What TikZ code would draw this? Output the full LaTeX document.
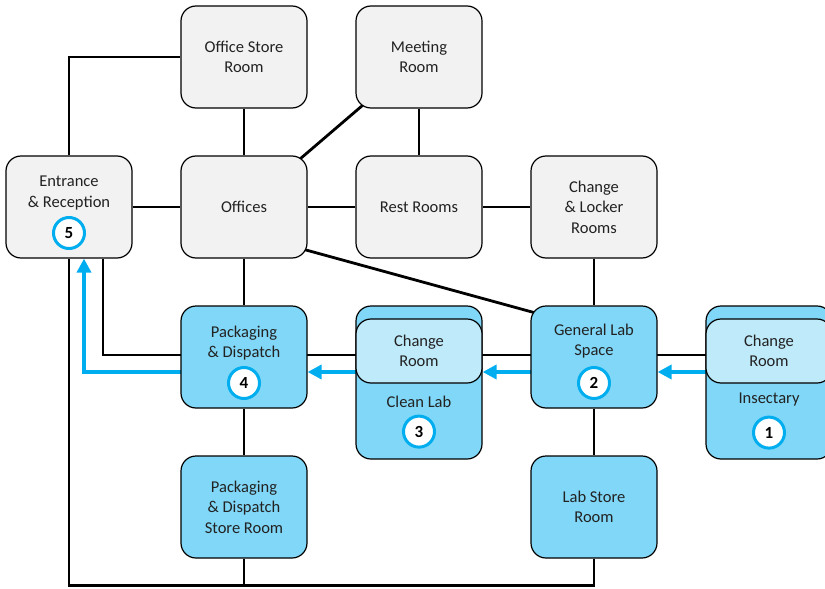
\documentclass[tikz,border=0pt]{standalone}
\usepackage{fontspec}
\setmainfont{Carlito}
\usepackage{tikz}
\usetikzlibrary{positioning,arrows.meta,backgrounds}
\definecolor{roomgrey}{HTML}{F2F2F2}
\definecolor{roomblue}{HTML}{80D7F7}
\definecolor{chgblue}{HTML}{BFEAFA}
\definecolor{flowblue}{HTML}{00AEEF}
\definecolor{txtgrey}{HTML}{222222}
\tikzset{
  room/.style = {align=center, inner sep=0pt, text centered, draw=black,
    line width=1.2pt, rounded corners=15pt, minimum width=126pt,
    minimum height=102pt, text=txtgrey, font=\fontsize{16.5}{20.5}\selectfont},
  room_g/.style = {room, fill=roomgrey},% office side, grey
  room_b/.style = {room, fill=roomblue},% lab side, blue
  room_t/.style = {room, fill=roomblue, minimum height=153pt},% lab with change room
  room_c/.style = {room, fill=chgblue, minimum height=64pt},% change room
  lbl/.style = {align=center, inner sep=0pt, text=txtgrey,
    font=\fontsize{16.5}{20.5}\selectfont},
  numc/.style = {circle, draw=flowblue, line width=3pt, fill=white,
    minimum size=31pt, inner sep=0pt, font=\fontsize{17}{17}\selectfont\bfseries},
  link/.style = {line width=2.8pt},
  flow/.style = {line width=4pt, draw=flowblue,
    -{Triangle[length=14pt,width=14pt]}}
}

\begin{document}
\begin{tikzpicture}[x=1pt, y=-1pt, node distance=46.8pt and 47.8pt]
  \useasboundingbox (0,0) rectangle (825,589);
  % office side
  \node [room_g] (ent) at (69,207) {};
  \node [room_g, right=of ent] (off) {Offices};
  \node [room_g, right=of off] (rest) {Rest Rooms};
  \node [room_g, right=of rest] (lock) {Change\\\& Locker\\Rooms};
  \node [room_g, above=of off] (ostore) {Office Store\\Room};
  \node [room_g, above=of rest] (meet) {Meeting\\Room};
  \node [lbl] (ent_t) at ([yshift=14pt]ent.center) {Entrance\\\& Reception};
  \node [numc] (ent_n) at ([yshift=-26pt]ent.center) {5};
  % lab side
  \node [room_b, below=of off] (pack) {};
  \node [room_b, below=of lock] (gen) {};
  \node [room_t, right=of pack.north east, anchor=north west] (clean) {};
  \node [room_t, right=of gen.north east, anchor=north west] (ins) {};
  \node [room_b, below=of pack] (pstore) {Packaging\\\& Dispatch\\Store Room};
  \node [room_b, below=of gen] (lstore) {Lab Store\\Room};
  \node [room_c, anchor=north] (clean_c) at ([yshift=-13pt]clean.north) {Change\\Room};
  \node [room_c, anchor=north] (ins_c) at ([yshift=-13pt]ins.north) {Change\\Room};
  \node [lbl] (pack_t) at ([yshift=14pt]pack.center) {Packaging\\\& Dispatch};
  \node [numc] (pack_n) at ([yshift=-26pt]pack.center) {4};
  \node [lbl] (gen_t) at ([yshift=16pt]gen.center) {General Lab\\Space};
  \node [numc] (gen_n) at ([yshift=-26pt]gen.center) {2};
  \node [lbl] (clean_t) at ([yshift=58pt]clean.south) {Clean Lab};
  \node [numc] (clean_n) at ([yshift=28pt]clean.south) {3};
  \node [lbl] (ins_t) at ([yshift=60pt]ins.south) {Insectary};
  \node [numc] (ins_n) at ([yshift=27pt]ins.south) {1};
  \coordinate (r3) at ([yshift=2pt]pack.center);
  \coordinate (f3) at ([yshift=-15pt]pack.center);
  \coordinate (loop) at ([yshift=-27pt]pstore.south);
  \begin{scope}[on background layer]
    \draw [link] (ent) |- (ostore);
    \draw [link] (ostore) -- (off);
    \draw [link] (meet) -- (rest);
    \draw [link] (off.center) -- (meet.center);
    \draw [link] (ent) -- (off);
    \draw [link] (off) -- (rest);
    \draw [link] (rest) -- (lock);
    \draw [link] ([yshift=-26pt]off.center) -- ([yshift=28pt]gen.center);
    \draw [link] (lock) -- (gen);
    \draw [link] (off) -- (pack);
    \draw [link] (pack) -- (pstore);
    \draw [link] (gen) -- (lstore);
    \draw [link] ([xshift=34pt]ent.south) |- (r3);
    \draw [link] (r3) -- (r3 -| ins.center);
    \draw [link] (ent) |- (loop) -| (lstore);
    \draw [link] (pstore) -- (loop);
    \draw [flow] (f3 -| ins.center) -- (f3 -| gen.east);
    \draw [flow] (f3 -| gen.center) -- (f3 -| clean.east);
    \draw [flow] (f3 -| clean.center) -- (f3 -| pack.east);
    \draw [flow] (f3) -| ([xshift=15pt]ent.south);
  \end{scope}
\end{tikzpicture}
\end{document}
